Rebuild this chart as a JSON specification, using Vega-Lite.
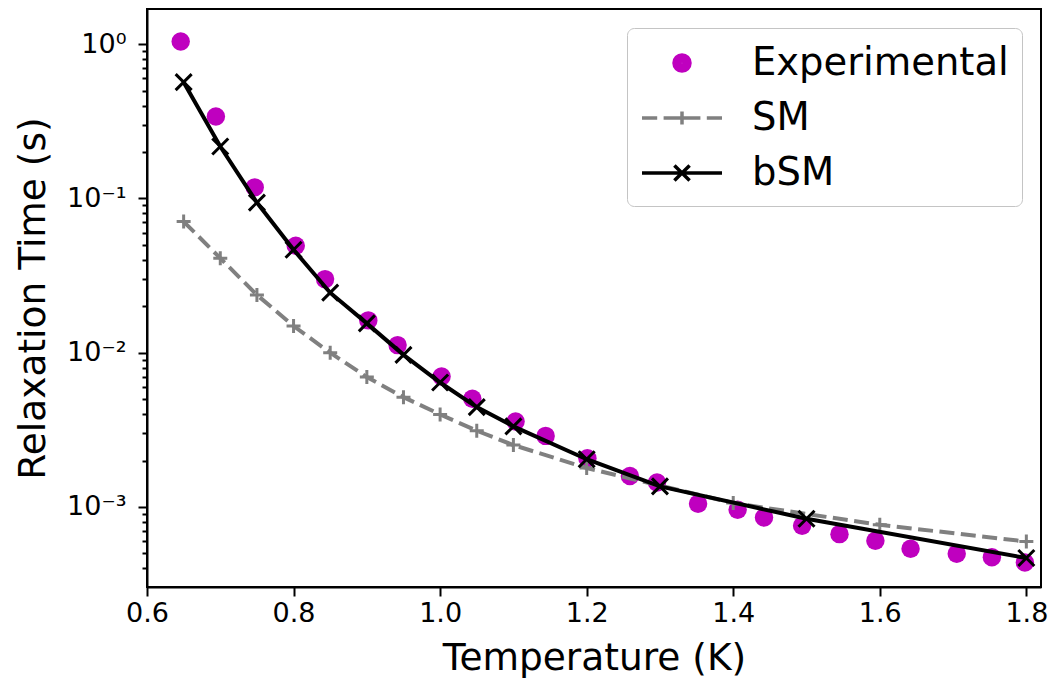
{
  "$schema": "https://vega.github.io/schema/vega-lite/v6.json",
  "width": 894,
  "height": 578,
  "autosize": {"type": "none"},
  "padding": {"left": 147, "top": 9, "right": 10, "bottom": 91},
  "background": "white",
  "config": {
    "font": "DejaVu Sans",
    "view": {"stroke": "black", "strokeWidth": 2},
    "axis": {
      "domainColor": "black", "domainWidth": 2, "tickColor": "black", "tickWidth": 2,
      "labelColor": "black", "titleColor": "black", "grid": false,
      "labelFont": "DejaVu Sans", "titleFont": "DejaVu Sans", "titleFontWeight": "normal",
      "labelFontSize": 27, "titleFontSize": 37.5, "labelOverlap": false, "labelFlush": false
    }
  },
  "data": {
    "values": [
      {"series": "Experimental", "T": 0.646, "tau": 1.04},
      {"series": "Experimental", "T": 0.694, "tau": 0.340},
      {"series": "Experimental", "T": 0.747, "tau": 0.118},
      {"series": "Experimental", "T": 0.803, "tau": 0.0493},
      {"series": "Experimental", "T": 0.843, "tau": 0.0300},
      {"series": "Experimental", "T": 0.902, "tau": 0.0162},
      {"series": "Experimental", "T": 0.942, "tau": 0.0112},
      {"series": "Experimental", "T": 1.002, "tau": 0.00701},
      {"series": "Experimental", "T": 1.044, "tau": 0.00503},
      {"series": "Experimental", "T": 1.103, "tau": 0.00358},
      {"series": "Experimental", "T": 1.144, "tau": 0.00289},
      {"series": "Experimental", "T": 1.201, "tau": 0.00207},
      {"series": "Experimental", "T": 1.259, "tau": 0.00159},
      {"series": "Experimental", "T": 1.296, "tau": 0.00144},
      {"series": "Experimental", "T": 1.352, "tau": 0.00105},
      {"series": "Experimental", "T": 1.406, "tau": 0.000959},
      {"series": "Experimental", "T": 1.442, "tau": 0.000855},
      {"series": "Experimental", "T": 1.494, "tau": 0.000755},
      {"series": "Experimental", "T": 1.545, "tau": 0.000667},
      {"series": "Experimental", "T": 1.594, "tau": 0.000604},
      {"series": "Experimental", "T": 1.642, "tau": 0.000536},
      {"series": "Experimental", "T": 1.705, "tau": 0.000497},
      {"series": "Experimental", "T": 1.753, "tau": 0.000473},
      {"series": "Experimental", "T": 1.798, "tau": 0.000437},
      {"series": "SM", "T": 0.65, "tau": 0.0708},
      {"series": "SM", "T": 0.70, "tau": 0.041},
      {"series": "SM", "T": 0.75, "tau": 0.0237},
      {"series": "SM", "T": 0.80, "tau": 0.0149},
      {"series": "SM", "T": 0.85, "tau": 0.0100},
      {"series": "SM", "T": 0.90, "tau": 0.00695},
      {"series": "SM", "T": 0.95, "tau": 0.00515},
      {"series": "SM", "T": 1.00, "tau": 0.00398},
      {"series": "SM", "T": 1.05, "tau": 0.00312},
      {"series": "SM", "T": 1.10, "tau": 0.00252},
      {"series": "SM", "T": 1.20, "tau": 0.00179},
      {"series": "SM", "T": 1.40, "tau": 0.00106},
      {"series": "SM", "T": 1.60, "tau": 0.000767},
      {"series": "SM", "T": 1.80, "tau": 0.000597},
      {"series": "bSM", "T": 0.65, "tau": 0.567},
      {"series": "bSM", "T": 0.70, "tau": 0.217},
      {"series": "bSM", "T": 0.75, "tau": 0.094},
      {"series": "bSM", "T": 0.80, "tau": 0.0465},
      {"series": "bSM", "T": 0.85, "tau": 0.0245},
      {"series": "bSM", "T": 0.90, "tau": 0.0155},
      {"series": "bSM", "T": 0.95, "tau": 0.00969},
      {"series": "bSM", "T": 1.00, "tau": 0.00641},
      {"series": "bSM", "T": 1.05, "tau": 0.00444},
      {"series": "bSM", "T": 1.10, "tau": 0.00333},
      {"series": "bSM", "T": 1.20, "tau": 0.00204},
      {"series": "bSM", "T": 1.30, "tau": 0.00136},
      {"series": "bSM", "T": 1.50, "tau": 0.000839},
      {"series": "bSM", "T": 1.80, "tau": 0.000467}
    ]
  },
  "encoding": {
    "x": {
      "field": "T", "type": "quantitative",
      "scale": {"domain": [0.6, 1.82], "nice": false, "zero": false},
      "axis": {
        "values": [0.6, 0.8, 1.0, 1.2, 1.4, 1.6, 1.8], "format": ".1f",
        "tickSize": 9, "labelPadding": 4,
        "title": "Temperature (K)", "titleBaseline": "alphabetic", "titleY": 82
      }
    },
    "y": {
      "field": "tau", "type": "quantitative",
      "scale": {"type": "log", "domain": [0.000303, 1.69], "nice": false},
      "axis": {
        "values": [0.0004, 0.0005, 0.0006, 0.0007, 0.0008, 0.0009, 0.001, 0.002, 0.003, 0.004, 0.005, 0.006, 0.007, 0.008, 0.009, 0.01, 0.02, 0.03, 0.04, 0.05, 0.06, 0.07, 0.08, 0.09, 0.1, 0.2, 0.3, 0.4, 0.5, 0.6, 0.7, 0.8, 0.9, 1],
        "labelExpr": "datum.value === 1 ? '10⁰' : datum.value === 0.1 ? '10⁻¹' : datum.value === 0.01 ? '10⁻²' : datum.value === 0.001 ? '10⁻³' : ''",
        "tickSize": {"condition": {"test": "datum.value === 1 || datum.value === 0.1 || datum.value === 0.01 || datum.value === 0.001", "value": 9}, "value": 5},
        "labelPadding": 12,
        "title": "Relaxation Time (s)", "titleX": -95, "titleY": 289
      }
    }
  },
  "layer": [
    {
      "transform": [{"filter": "datum.series === 'Experimental'"}],
      "mark": {"type": "circle", "size": 340, "opacity": 1, "color": "#bf00bf"},
      "encoding": {}
    },
    {
      "transform": [{"filter": "datum.series === 'SM'"}],
      "mark": {"type": "line", "color": "#808080", "strokeWidth": 4, "strokeDash": [15, 6.5]},
      "encoding": {}
    },
    {
      "transform": [{"filter": "datum.series === 'SM'"}],
      "mark": {"type": "point", "shape": "M-1,0L1,0M0,-1L0,1", "filled": false, "color": "#808080", "strokeWidth": 3, "size": 196, "opacity": 1},
      "encoding": {}
    },
    {
      "transform": [{"filter": "datum.series === 'bSM'"}],
      "mark": {"type": "line", "color": "#000000", "strokeWidth": 4},
      "encoding": {}
    },
    {
      "transform": [{"filter": "datum.series === 'bSM'"}],
      "mark": {"type": "point", "shape": "M-1,-1L1,1M-1,1L1,-1", "filled": false, "color": "#000000", "strokeWidth": 3, "size": 256, "opacity": 1},
      "encoding": {}
    },
    {
      "mark": {"type": "point", "filled": false, "opacity": 0, "strokeWidth": 3.5},
      "encoding": {
        "color": {
          "field": "series", "type": "nominal",
          "scale": {"domain": ["Experimental", "SM", "bSM"], "range": ["#bf00bf", "#808080", "#000000"]},
          "legend": {
            "title": null, "orient": "none", "legendX": 480, "legendY": 19, "direction": "vertical",
            "labelFontSize": 38.5, "labelFont": "DejaVu Sans", "labelColor": "black", "labelLimit": 0,
            "symbolSize": 1600, "symbolOffset": 20, "symbolOpacity": 1, "symbolStrokeWidth": 3.5, "labelOffset": 48, "padding": 13, "rowPadding": 13,
            "fillColor": "white", "strokeColor": "#c4c4c4", "cornerRadius": 7
          }
        },
        "shape": {
          "field": "series", "type": "nominal",
          "scale": {"domain": ["Experimental", "SM", "bSM"], "range": [
            "M-0.4,0A0.4,0.4,0,1,1,0.4,0A0.4,0.4,0,1,1,-0.4,0M-0.3,0A0.3,0.3,0,1,1,0.3,0A0.3,0.3,0,1,1,-0.3,0M-0.2,0A0.2,0.2,0,1,1,0.2,0A0.2,0.2,0,1,1,-0.2,0M-0.1,0A0.1,0.1,0,1,1,0.1,0A0.1,0.1,0,1,1,-0.1,0",
            "M-2,0L-1.24,0M-0.92,0L-0.16,0M0.16,0L0.92,0M1.24,0L2,0M-0.32,0L0.32,0M0,-0.32L0,0.32",
            "M-2,0L2,0M-0.38,-0.38L0.38,0.38M-0.38,0.38L0.38,-0.38"
          ]},
          "legend": {
            "title": null, "orient": "none", "legendX": 480, "legendY": 19, "direction": "vertical",
            "labelFontSize": 38.5, "labelFont": "DejaVu Sans", "labelColor": "black", "labelLimit": 0,
            "symbolSize": 1600, "symbolOffset": 20, "symbolOpacity": 1, "symbolStrokeWidth": 3.5, "labelOffset": 48, "padding": 13, "rowPadding": 13,
            "fillColor": "white", "strokeColor": "#c4c4c4", "cornerRadius": 7
          }
        }
      }
    }
  ]
}
